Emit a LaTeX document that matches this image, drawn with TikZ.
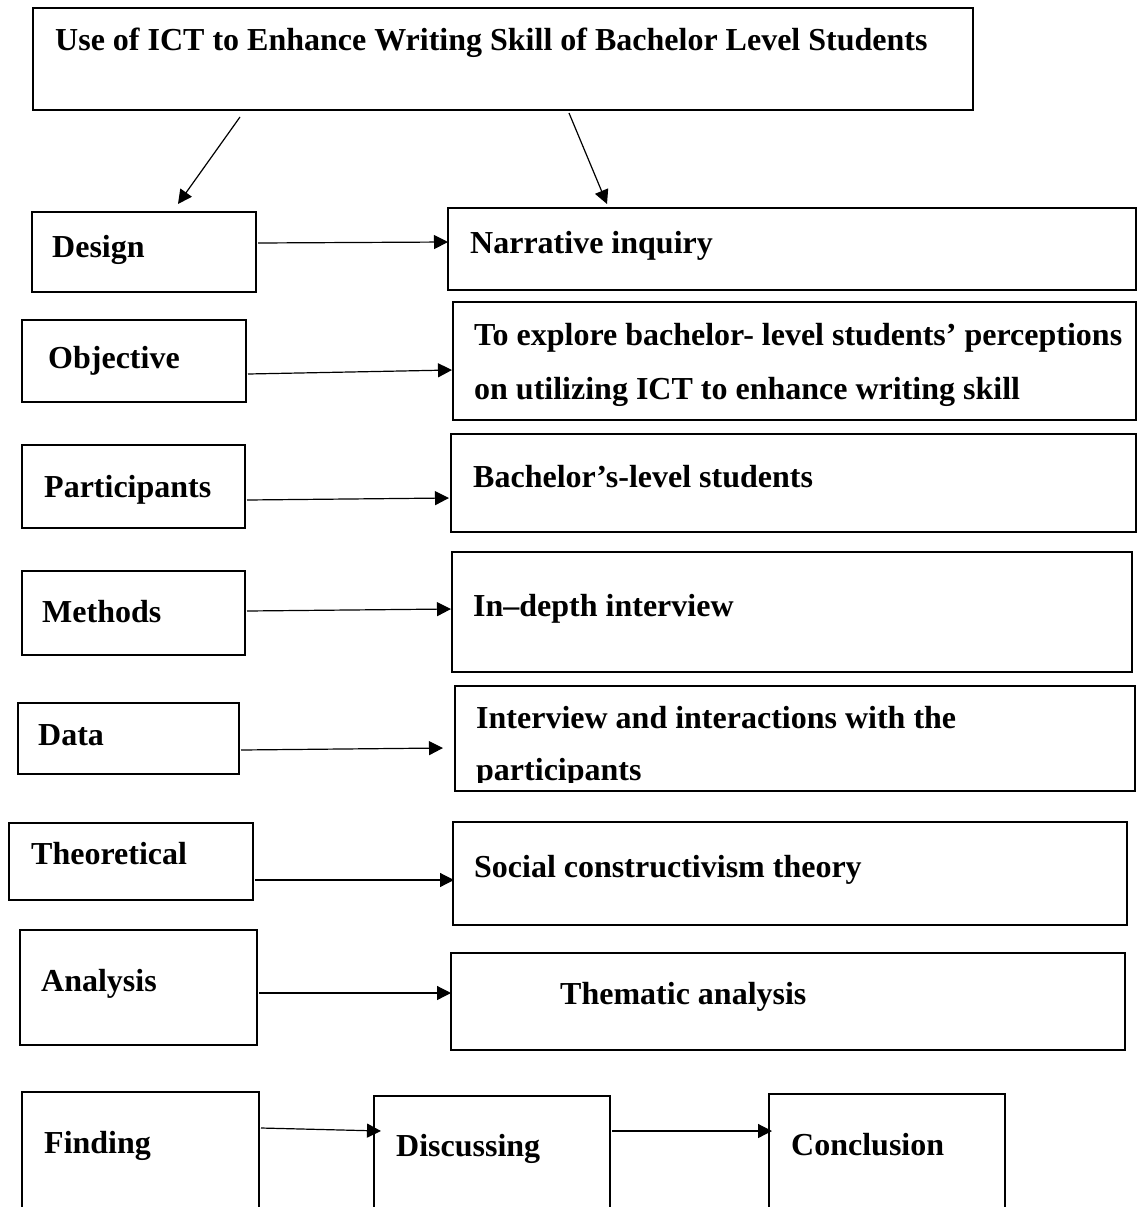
\documentclass[tikz,border=0pt]{standalone}
\usepackage{fontspec}
\setmainfont{Liberation Serif}
\usetikzlibrary{arrows.meta,calc}
\begin{document}
\begin{tikzpicture}[x=1pt,y=-1pt,
  box/.style={draw, line width=2pt, inner sep=0pt, outer sep=0pt, anchor=north west},
  lbl/.style={anchor=base west, inner sep=0pt, font=\bfseries\fontsize{32}{38}\selectfont},
  arr/.style={line width=1.2pt, -{Triangle[length=14pt,width=14pt]}}]
\useasboundingbox (0,0) rectangle (1138,1207);
\fill[white] (0,0) rectangle (1138,1207);
\clip (0,0) rectangle (1138,1207);
% boxes
\node[box, minimum width=940pt, minimum height=102pt] (top) at (33,8) {};
\node[box, minimum width=224pt, minimum height=80pt] (design) at (32,212) {};
\node[box, minimum width=688pt, minimum height=82pt] (narr) at (448,208) {};
\node[box, minimum width=224pt, minimum height=82pt] (obj) at (22,320) {};
\node[box, minimum width=683pt, minimum height=118pt] (objR) at (453,302) {};
\node[box, minimum width=223pt, minimum height=83pt] (part) at (22,445) {};
\node[box, minimum width=685pt, minimum height=98pt] (partR) at (451,434) {};
\node[box, minimum width=223pt, minimum height=84pt] (meth) at (22,571) {};
\node[box, minimum width=680pt, minimum height=120pt] (methR) at (452,552) {};
\node[box, minimum width=221pt, minimum height=71pt] (data) at (18,703) {};
\node[box, minimum width=680pt, minimum height=105pt] (dataR) at (455,686) {};
\node[box, minimum width=244pt, minimum height=77pt] (theo) at (9,823) {};
\node[box, minimum width=674pt, minimum height=103pt] (theoR) at (453,822) {};
\node[box, minimum width=237pt, minimum height=115pt] (anal) at (20,930) {};
\node[box, minimum width=674pt, minimum height=97pt] (analR) at (451,953) {};
\node[box, minimum width=237pt, minimum height=140pt] (find) at (22,1092) {};
\node[box, minimum width=236pt, minimum height=140pt] (disc) at (374,1096) {};
\node[box, minimum width=236pt, minimum height=140pt] (concl) at (769,1094) {};
% texts
\node[lbl] (ttop) at (55,51) {Use of ICT to Enhance Writing Skill of Bachelor Level Students};
\node[lbl] (tdesign) at (52,257) {Design};
\node[lbl] (tnarr) at (470,253) {Narrative inquiry};
\node[lbl] (tobj) at (48,368) {Objective};
\node[lbl] (tobjR1) at (474,345) {To explore bachelor- level students’ perceptions};
\node[lbl] (tobjR2) at (474,399) {on utilizing ICT to enhance writing skill};
\node[lbl] (tpart) at (44,497) {Participants};
\node[lbl] (tpartR) at (473,487) {Bachelor’s-level students};
\node[lbl] (tmeth) at (42,622) {Methods};
\node[lbl] (tmethR) at (473,616) {In–depth interview};
\node[lbl] (tdata) at (38,745) {Data};
\node[lbl] (tdataR1) at (476,728) {Interview and interactions with the};
\begin{scope}
\clip (dataR.north west) rectangle (1138,782);
\node[lbl] (tdataR2) at (476,780) {participants};
\end{scope}
\node[lbl] (ttheo) at (31,864) {Theoretical};
\node[lbl] (ttheoR) at (474,877) {Social constructivism theory};
\node[lbl] (tanal) at (41,991) {Analysis};
\node[lbl] (tanalR) at (560,1004) {Thematic analysis};
\node[lbl] (tfind) at (44,1153) {Finding};
\node[lbl] (tdisc) at (396,1156) {Discussing};
\node[lbl] (tconcl) at (791,1155) {Conclusion};
% connectors
\coordinate (a1s) at (240,117); \coordinate (a1e) at (178,204);
\coordinate (a2s) at (569,113); \coordinate (a2e) at (607,204);
\draw[arr] (a1s) -- (a1e);
\draw[arr] (a2s) -- (a2e);
\draw[arr] ($(design.east |- 0,243)+(2,0)$) -- (narr.west |- 0,242);
\draw[arr] ($(obj.east |- 0,374)+(2,0)$) -- ($(objR.west |- 0,370)+(-1,0)$);
\draw[arr] ($(part.east |- 0,500)+(2,0)$) -- ($(partR.west |- 0,498)+(-2,0)$);
\draw[arr] ($(meth.east |- 0,611)+(2,0)$) -- ($(methR.west |- 0,609)+(-1,0)$);
\draw[arr] ($(data.east |- 0,750)+(2,0)$) -- ($(dataR.west |- 0,748)+(-12,0)$);
\draw[arr] ($(theo.east |- 0,880)+(2,0)$) -- ($(theoR.west |- 0,880)+(1,0)$);
\draw[arr] ($(anal.east |- 0,993)+(2,0)$) -- (analR.west |- 0,993);
\draw[arr] ($(find.east |- 0,1128)+(2,0)$) -- ($(disc.west |- 0,1131)+(7,0)$);
\draw[arr] ($(disc.east |- 0,1131)+(2,0)$) -- ($(concl.west |- 0,1131)+(3,0)$);
\end{tikzpicture}
\end{document}
